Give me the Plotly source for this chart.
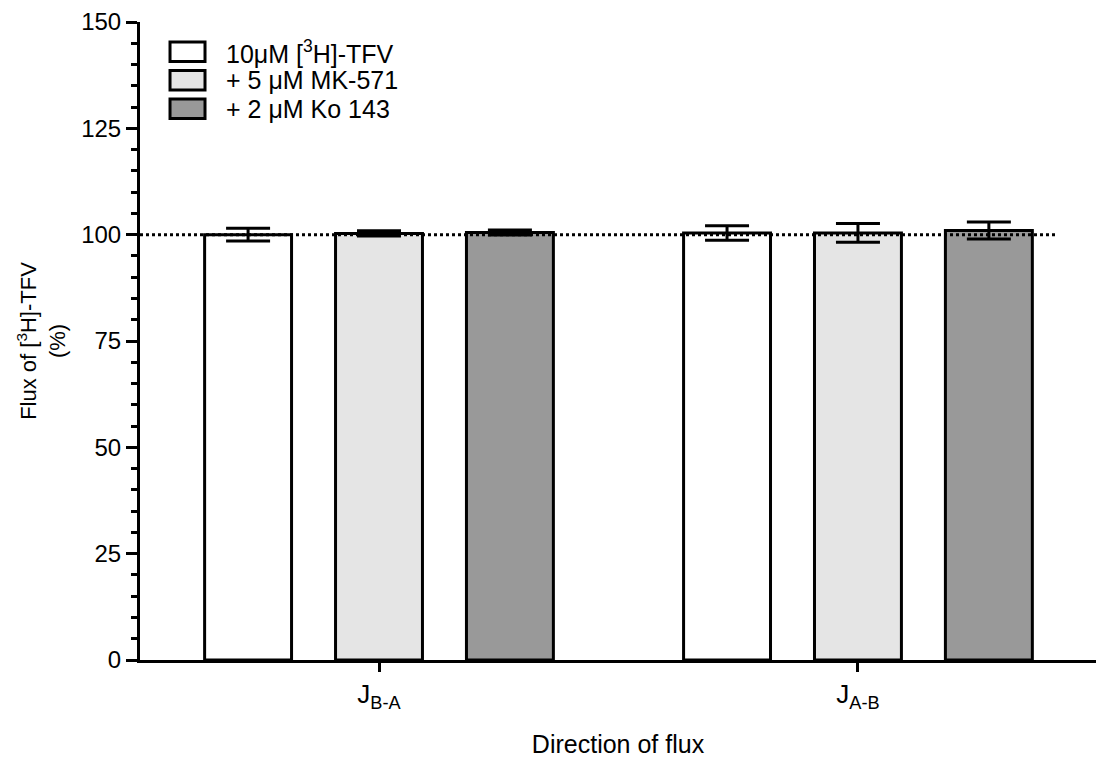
import plotly.graph_objects as go

# Flux directions (x categories)
directions = ["J<sub>B-A</sub>", "J<sub>A-B</sub>"]

# Treatment series
series_names = ["10μM [<sup>3</sup>H]-TFV", "+ 5 μM MK-571", "+ 2 μM Ko 143"]
flux_tfv = [100.0, 100.4]
flux_mk571 = [100.3, 100.4]
flux_ko143 = [100.5, 101.0]
err_tfv = [1.5, 1.7]
err_mk571 = [0.6, 2.2]
err_ko143 = [0.6, 2.0]

y_ticks = [0, 25, 50, 75, 100, 125, 150]
reference_level = 100

values = [flux_tfv, flux_mk571, flux_ko143]
errors = [err_tfv, err_mk571, err_ko143]
fills = ["#ffffff", "#e5e5e5", "#999999"]

FONT = "Arial, Liberation Sans, Helvetica, sans-serif"

fig = go.Figure()
for name, vals, errs, fill in zip(series_names, values, errors, fills):
    fig.add_trace(go.Bar(
        x=directions, y=vals, name=name,
        marker=dict(color=fill, line=dict(color="black", width=3)),
        error_y=dict(type="data", array=errs, visible=True,
                     color="black", thickness=3, width=22),
        showlegend=False,
    ))

# Dotted reference line at 100 %
fig.add_shape(type="line", xref="paper", yref="y",
              x0=0, x1=0.96, y0=reference_level, y1=reference_level,
              line=dict(color="black", width=3, dash="3px,3px"))

# Legend drawn as boxed swatches with labels
box_x0, box_x1 = 0.0314, 0.068
row_top = 0.9687
box_h = 0.0305
row_step = 0.0447
for i, (name, fill) in enumerate(zip(series_names, fills)):
    top = row_top - i * row_step
    fig.add_shape(type="rect", xref="paper", yref="paper",
                  x0=box_x0, x1=box_x1, y0=top - box_h, y1=top,
                  fillcolor=fill, line=dict(color="black", width=3))
    fig.add_annotation(xref="paper", yref="paper", x=0.0875, y=top - box_h / 2,
                       text=name, showarrow=False, xanchor="left", yanchor="middle",
                       font=dict(family=FONT, size=25, color="black"))

fig.update_layout(
    width=1096, height=760,
    margin=dict(l=140, r=0, t=22, b=100),
    plot_bgcolor="white", paper_bgcolor="white",
    barmode="group", bargap=0.18, bargroupgap=0.336,
    font=dict(family=FONT, size=24, color="black"),
    xaxis=dict(
        range=[-0.499, 1.497],
        showline=True, linecolor="black", linewidth=3,
        ticks="outside", ticklen=9, tickwidth=3, tickcolor="black",
        showgrid=False, zeroline=False,
        tickfont=dict(family=FONT, size=26, color="black"),
        title=dict(text="Direction of flux", standoff=24,
                   font=dict(family=FONT, size=25, color="black")),
    ),
    yaxis=dict(
        range=[0, 150], tickvals=y_ticks,
        showline=True, linecolor="black", linewidth=3,
        ticks="outside", ticklen=11, tickwidth=3, tickcolor="black",
        minor=dict(dtick=5, ticks="outside", ticklen=6, tickwidth=2.5, tickcolor="black"),
        showgrid=False, zeroline=False,
        tickfont=dict(family=FONT, size=24, color="black"),
        title=dict(text="Flux of [<sup>3</sup>H]-TFV<br>(%)", standoff=10,
                   font=dict(family=FONT, size=22, color="black")),
    ),
)

fig.write_html("out.html")
